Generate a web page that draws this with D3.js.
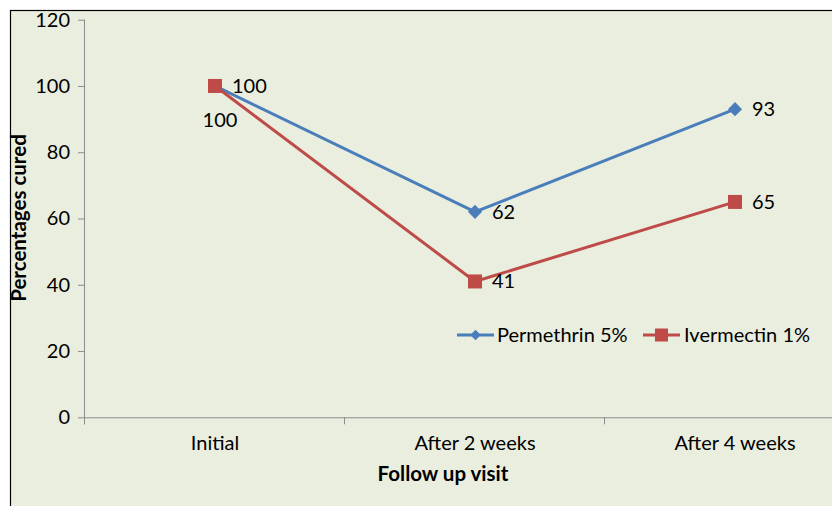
<!DOCTYPE html>
<html>
<head>
<meta charset="utf-8">
<script src="https://cdn.jsdelivr.net/npm/d3@7"></script>
<style>
  html, body { margin: 0; padding: 0; background: #ffffff; }
  svg { display: block; }
  text { font-family: Lato, "Open Sans", sans-serif; fill: #000; }
</style>
</head>
<body>
<svg id="chart" width="832" height="506"></svg>
<script>
// Follow-up visits and cure rates (%)
const visits = ["Initial", "After 2 weeks", "After 4 weeks"];
const permethrin = [100, 62, 93];
const ivermectin = [100, 41, 65];
const seriesNames = ["Permethrin 5%", "Ivermectin 1%"];
const yTicks = [0, 20, 40, 60, 80, 100, 120];

const svg = d3.select("#chart");
const W = 832, H = 506;
const FS = 20;

// chart area frame
svg.append("rect")
  .attr("x", 10.5).attr("y", 10.5)
  .attr("width", W + 20).attr("height", H + 20)
  .attr("fill", "#eaeedf").attr("stroke", "#000").attr("stroke-width", 1.2);

const plotLeft = 85, plotTop = 19.7, plotBottom = 417.3;
const x = d3.scaleBand().domain(visits).range([plotLeft, plotLeft + 260 * 3]).padding(0);
const y = d3.scaleLinear().domain([0, 120]).range([plotBottom, plotTop]);

// y axis
const yAxis = svg.append("g").attr("transform", `translate(${plotLeft},0)`)
  .call(d3.axisLeft(y).tickValues(yTicks).tickSize(7).tickPadding(8));
yAxis.select(".domain").attr("stroke", "#8c8c8c").attr("d", `M-0.5,${y(120)}V${y(0) + 7}`);
yAxis.selectAll(".tick line").attr("stroke", "#8c8c8c");
yAxis.selectAll(".tick text").attr("font-size", FS).attr("font-family", "Lato, sans-serif").attr("fill", "#000");

// x axis
const xAxis = svg.append("g").attr("transform", `translate(0,${plotBottom})`)
  .call(d3.axisBottom(x).tickSize(0).tickPadding(19));
xAxis.select(".domain").attr("stroke", "#8c8c8c").attr("d", `M${plotLeft},0.5H${W + 40}`);
xAxis.selectAll(".tick text").attr("font-size", FS).attr("font-family", "Lato, sans-serif").attr("fill", "#000");
// category boundary ticks
const bounds = visits.map(v => x(v)).concat([x(visits[2]) + x.bandwidth()]);
svg.append("g").selectAll("line").data(bounds).join("line")
  .attr("x1", d => d - 0.5).attr("x2", d => d - 0.5)
  .attr("y1", plotBottom).attr("y2", plotBottom + 7)
  .attr("stroke", "#8c8c8c");

// axis titles
svg.append("text")
  .attr("transform", `translate(26,218) rotate(-90)`)
  .attr("text-anchor", "middle").attr("font-weight", "bold").attr("font-size", 20.5)
  .text("Percentages cured");
svg.append("text")
  .attr("x", 443).attr("y", 481)
  .attr("text-anchor", "middle").attr("font-weight", "bold").attr("font-size", 20.5)
  .text("Follow up visit");

const cx = v => x(v) + x.bandwidth() / 2;
const line = d3.line().x((d, i) => cx(visits[i])).y(d => y(d));

const blue = "#4a7ebb", red = "#be4b48";
const diamond = d3.symbol().type(d3.symbolSquare).size(100);

// Permethrin series
svg.append("path").datum(permethrin).attr("d", line)
  .attr("fill", "none").attr("stroke", blue).attr("stroke-width", 3).attr("stroke-linejoin", "round");
svg.append("g").selectAll("path").data(permethrin).join("path")
  .attr("d", diamond)
  .attr("transform", (d, i) => `translate(${cx(visits[i])},${y(d)}) rotate(45)`)
  .attr("fill", blue);

// Ivermectin series
svg.append("path").datum(ivermectin).attr("d", line)
  .attr("fill", "none").attr("stroke", red).attr("stroke-width", 3).attr("stroke-linejoin", "round");
svg.append("g").selectAll("rect").data(ivermectin).join("rect")
  .attr("x", (d, i) => cx(visits[i]) - 7).attr("y", d => y(d) - 7)
  .attr("width", 14).attr("height", 14)
  .attr("fill", red);

// data labels
svg.append("g").selectAll("text").data(permethrin).join("text")
  .attr("x", (d, i) => cx(visits[i]) + 17).attr("y", d => y(d) + 7)
  .attr("font-size", FS).text(d => d);
svg.append("g").selectAll("text").data(ivermectin).join("text")
  .attr("x", (d, i) => i === 0 ? cx(visits[i]) + 5 : cx(visits[i]) + 17)
  .attr("y", (d, i) => i === 0 ? y(d) + 41 : y(d) + 7)
  .attr("text-anchor", (d, i) => i === 0 ? "middle" : "start")
  .attr("font-size", FS).text(d => d);

// legend
const legend = svg.append("g");
const legendItems = [
  { name: seriesNames[0], color: blue, x0: 457, tx: 497 },
  { name: seriesNames[1], color: red, x0: 643, tx: 684 }
];
const ly = 335;
legendItems.forEach((it, k) => {
  legend.append("line").attr("x1", it.x0).attr("x2", it.x0 + 37)
    .attr("y1", ly).attr("y2", ly).attr("stroke", it.color).attr("stroke-width", 3);
  if (k === 0) {
    legend.append("path").attr("d", d3.symbol().type(d3.symbolSquare).size(56))
      .attr("transform", `translate(${it.x0 + 18.5},${ly}) rotate(45)`).attr("fill", it.color);
  } else {
    legend.append("rect").attr("x", it.x0 + 12).attr("y", ly - 6.5)
      .attr("width", 13).attr("height", 13).attr("fill", it.color);
  }
  legend.append("text").attr("x", it.tx).attr("y", ly + 7)
    .attr("font-size", FS).text(it.name);
});
</script>
</body>
</html>
